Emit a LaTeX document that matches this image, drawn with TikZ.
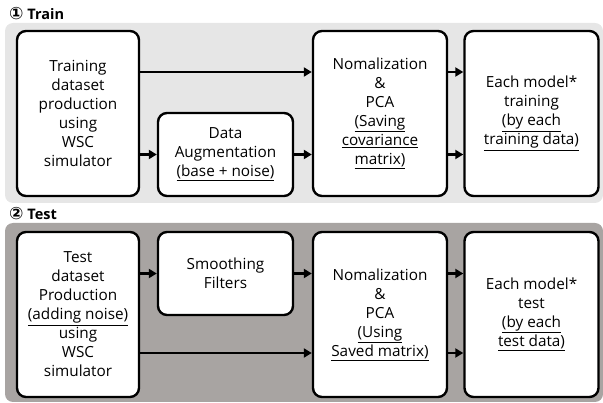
\documentclass[tikz,border=0pt]{standalone}
\usepackage{fontspec}
\setmainfont{Open Sans}
\newfontfamily\symfont{DejaVu Sans}
\usetikzlibrary{arrows.meta}

\definecolor{trainpanel}{RGB}{230, 230, 230}
\definecolor{testpanel}{RGB}{168, 164, 162}
\tikzset{box/.style={draw, line width=2.4pt, rounded corners=9pt, fill=white, align=center,
    font=\fontsize{15.3}{19}\selectfont, inner sep=2pt}}
\tikzset{bigbox/.style={box, minimum width=122pt, minimum height=165pt}}
\tikzset{midbox/.style={box, minimum width=134pt, minimum height=165pt}}
\tikzset{smallbox/.style={box, minimum width=135pt, minimum height=83pt}}
\tikzset{arr/.style={line width=2.2pt, -{Triangle[length=8pt, width=9pt]}}}
\tikzset{title/.style={anchor=base west, font=\fontsize{14.5}{16}\selectfont\bfseries, inner sep=0pt}}

\begin{document}
\begin{tikzpicture}[x=1pt, y=-1pt]
    \useasboundingbox (0,0) rectangle (603,403);

    % panels
    \fill[trainpanel, rounded corners=8pt] (5,23) rectangle (603,203);
    \fill[testpanel, rounded corners=8pt] (5,223) rectangle (603,402);
    \node[title] (ttrain) at (9,20) {{\symfont\fontsize{17}{17}\selectfont ①} Train};
    \node[title] (ttest) at (9,220) {{\symfont\fontsize{17}{17}\selectfont ②} Test};

    % train
    \node[bigbox] (Tgen) at (78, 113.5) {Training\\dataset\\production\\using\\WSC\\simulator};
    \node[smallbox] (Taug) at (225.5, 154.5) {Data\\Augmentation\\\underline{(base + noise)}};
    \node[midbox] (Tpca) at (380, 113.5) {Nomalization\\\&\\PCA\\\underline{(Saving}\\\underline{covariance}\\\underline{matrix)}};
    \node[midbox] (Tmod) at (531.5, 113.5) {Each model*\\training\\\underline{(by each}\\\underline{training data)}};

    \draw [arr] ([yshift=41.5pt]Tgen.east) -- ([yshift=41.5pt]Tgen.east -| Tpca.west);
    \draw [arr] (Tgen.east |- Taug.west) -- (Taug.west);
    \draw [arr] (Taug.east) -- (Taug.east -| Tpca.west);
    \draw [arr] ([yshift=41.5pt]Tpca.east) -- ([yshift=41.5pt]Tpca.east -| Tmod.west);
    \draw [arr] (Taug.east -| Tpca.east) -- (Taug.east -| Tmod.west);

    % test
    \node[bigbox] (Sgen) at (78, 314.5) {Test\\dataset\\Production\\\underline{(adding noise)}\\using\\WSC\\simulator};
    \node[smallbox] (Sfil) at (225.5, 273.5) {Smoothing\\Filters};
    \node[midbox] (Spca) at (380, 314.5) {Nomalization\\\&\\PCA\\\underline{(Using}\\\underline{Saved matrix)}};
    \node[midbox] (Smod) at (531.5, 314.5) {Each model*\\test\\\underline{(by each}\\\underline{test data)}};

    \draw [arr] (Sgen.east |- Sfil.west) -- (Sfil.west);
    \draw [arr] (Sfil.east) -- (Sfil.east -| Spca.west);
    \draw [arr] ([yshift=-38.5pt]Sgen.east) -- ([yshift=-38.5pt]Sgen.east -| Spca.west);
    \draw [arr] (Sfil.east -| Spca.east) -- (Sfil.east -| Smod.west);
    \draw [arr] ([yshift=-38.5pt]Spca.east) -- ([yshift=-38.5pt]Spca.east -| Smod.west);

\end{tikzpicture}
\end{document}
